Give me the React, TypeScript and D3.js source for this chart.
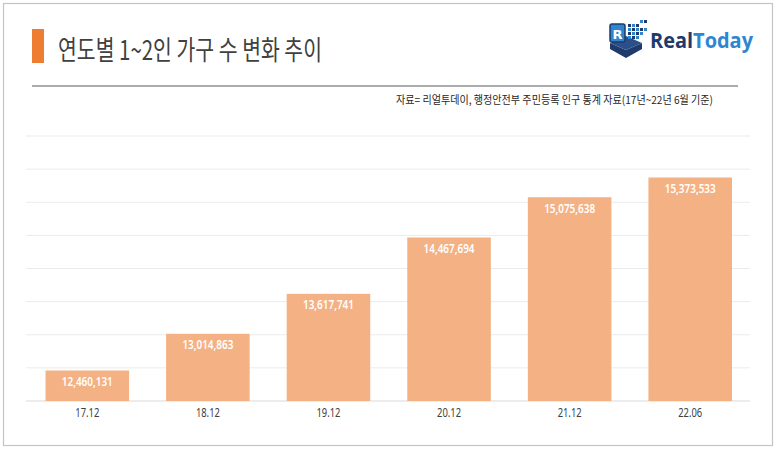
import * as d3 from "d3";

// 연도별 1~2인 가구 수 (행정안전부 주민등록 인구 통계)
const categories = ["17.12", "18.12", "19.12", "20.12", "21.12", "22.06"];
const households = [12460131, 13014863, 13617741, 14467694, 15075638, 15373533];
const yDomain = [12000000, 16000000];

const W = 779;
const H = 449;
const KR = "'Noto Sans CJK KR', 'Noto Sans', sans-serif";
const fmt = d3.format(",");

// little pixel squares in the logo: [col, row, shade]
const logoPixels: [number, number, number][] = [
  [0, 1, 0], [1, 1, 1], [2, 1, 0], [3, 0, 1], [4, 0, 0],
  [0, 2, 1], [1, 2, 0], [2, 2, 1], [3, 2, 0],
  [0, 3, 0], [1, 3, 1], [2, 3, 0], [3, 3, 1], [4, 2, 1],
  [0, 4, 1], [1, 4, 0], [2, 4, 1],
];

function Logo() {
  return (
    <g>
      {/* cube base */}
      <polygon points="610,43 626,50 642,43 642,49 626,58 610,49" fill="#1f3a6b" />
      <polygon points="610,43 626,36 642,43 626,50" fill="#2b4f8a" />
      {/* R tile */}
      <rect x={610} y={24} width={15} height={18} rx={2} fill="#2e86d0" stroke="#1f3a6b" strokeWidth={1.5} />
      <text x={617.5} y={38.5} textAnchor="middle" fontFamily="'DejaVu Sans', sans-serif" fontWeight={700} fontSize={13} fill="#fff">
        R
      </text>
      {logoPixels.map(([c, r, s], i) => (
        <rect key={i} x={628 + c * 4} y={20 + r * 4} width={3} height={3} fill={s ? "#2e86d0" : "#1f3a6b"} />
      ))}
      <text x={650} y={48} fontFamily="'Open Sans', 'Noto Sans', sans-serif" fontWeight={700} fontSize={22} textLength={103} lengthAdjust="spacingAndGlyphs">
        <tspan fill="#1f3a6b">Real</tspan>
        <tspan fill="#2e86d0">Today</tspan>
      </text>
    </g>
  );
}

export default function App() {
  const x = d3
    .scaleBand<string>()
    .domain(categories)
    .range([27, 750.5])
    .paddingInner(0.307)
    .paddingOuter(0.1535);

  const y = d3.scaleLinear().domain(yDomain).range([401, 136]);
  const ticks = y.ticks(8);

  return (
    <svg
      width={W}
      height={H}
      style={{ position: "absolute", left: 0, top: 0, display: "block", background: "#fff" }}
    >
      <rect x={3.5} y={3.5} width={769} height={442} fill="#fff" stroke="#c4c4c4" strokeWidth={1.2} />

      {/* title */}
      <rect x={32} y={29} width={12} height={34} fill="#ed7d31" />
      <text
        x={58}
        y={48}
        dominantBaseline="central"
        fontFamily={KR}
        fontSize={27}
        fill="#404040"
        textLength={264}
        lengthAdjust="spacingAndGlyphs"
      >
        연도별 1~2인 가구 수 변화 추이
      </text>
      <Logo />

      <line x1={32} x2={738} y1={86} y2={86} stroke="#595959" strokeWidth={1} />
      <text
        x={713}
        y={98.5}
        textAnchor="end"
        dominantBaseline="central"
        fontFamily={KR}
        fontSize={11}
        fill="#262626"
        textLength={317}
        lengthAdjust="spacingAndGlyphs"
      >
        자료= 리얼투데이, 행정안전부 주민등록 인구 통계 자료(17년~22년 6월 기준)
      </text>

      {/* gridlines */}
      {ticks.map((t) => (
        <line
          key={t}
          x1={26}
          x2={750}
          y1={y(t)}
          y2={y(t)}
          stroke={t === yDomain[0] ? "#d9d9d9" : "#ebebeb"}
          strokeWidth={1}
        />
      ))}

      {/* bars */}
      {categories.map((c, i) => {
        const bx = x(c) ?? 0;
        const top = y(households[i]);
        return (
          <g key={c}>
            <rect x={bx} y={top} width={x.bandwidth()} height={y(yDomain[0]) - top} fill="#f4b183" />
            <text
              x={bx + x.bandwidth() / 2}
              y={top + 11}
              textAnchor="middle"
              dominantBaseline="central"
              fontFamily="'Noto Sans', sans-serif"
              fontWeight={600}
              fontSize={12.5}
              fill="#fff"
              textLength={51}
              lengthAdjust="spacingAndGlyphs"
            >
              {fmt(households[i])}
            </text>
            <text
              x={bx + x.bandwidth() / 2}
              y={412.7}
              textAnchor="middle"
              dominantBaseline="central"
              fontFamily="'Noto Sans', sans-serif"
              fontSize={12}
              fill="#404040"
              textLength={24}
              lengthAdjust="spacingAndGlyphs"
            >
              {c}
            </text>
          </g>
        );
      })}
    </svg>
  );
}
